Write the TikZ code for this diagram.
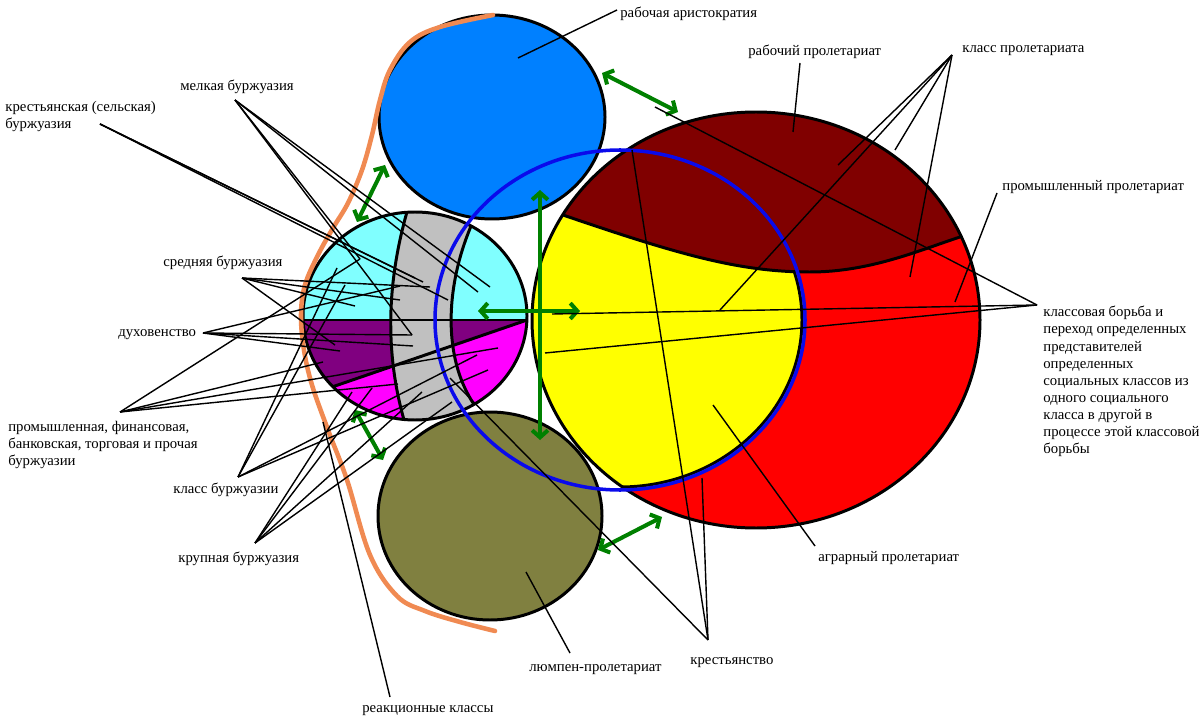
\documentclass[tikz,border=0pt]{standalone}
\usepackage{fontspec}
\setmainfont{Liberation Serif}
\usetikzlibrary{arrows.meta}

\definecolor{topblue}{RGB}{0,128,255}
\definecolor{cyanb}{RGB}{128,255,255}
\definecolor{grayb}{RGB}{192,192,192}
\definecolor{purpleb}{RGB}{128,0,128}
\definecolor{magentab}{RGB}{255,0,255}
\definecolor{olivep}{RGB}{128,128,64}
\definecolor{redp}{RGB}{255,0,0}
\definecolor{darkredp}{RGB}{128,0,0}
\definecolor{yellowp}{RGB}{255,255,0}
\definecolor{ringblue}{RGB}{10,10,235}
\definecolor{orangep}{RGB}{240,138,82}
\definecolor{arrowgreen}{RGB}{0,128,0}

\tikzset{
  outline/.style={draw=black, line width=1.7pt},
  leader/.style={draw=black, line width=0.8pt},
  transfer/.style={draw=arrowgreen, line width=2.3pt,
    {Straight Barb[length=4pt,width=9pt]}-{Straight Barb[length=4pt,width=9pt]}},
  lbl/.style={anchor=base west, inner sep=0pt, align=left,
    font=\fontsize{8.4}{9.7}\selectfont},
}

\begin{document}
\begin{tikzpicture}[x=0.02cm, y=-0.02cm]
  \useasboundingbox (0,0) rectangle (1203,719);

  % worker aristocracy
  \draw[outline, fill=topblue] (492,117) ellipse [x radius=113, y radius=102];

  % bourgeoisie
  \begin{scope}
    \clip (415,316) ellipse [x radius=112, y radius=104];
    \fill[cyanb] (300,200) rectangle (530,430);
    \fill[purpleb] (300,320) rectangle (530,430);
    \fill[magentab] (300,398) -- (530,319) -- (530,430) -- (300,430) -- cycle;
    \fill[grayb] (409,205) .. controls (385,285) and (385,360) .. (407,430)
      -- (478,410) .. controls (440,360) and (445,280) .. (476,215) -- cycle;
    \draw[outline] (300,320) -- (530,320);
    \draw[outline] (300,398) -- (530,319);
    \draw[outline] (409,205) .. controls (385,285) and (385,360) .. (407,430);
    \draw[outline] (476,215) .. controls (445,280) and (440,360) .. (478,410);
  \end{scope}
  \draw[outline] (415,316) ellipse [x radius=112, y radius=104];

  % lumpen
  \draw[outline, fill=olivep] (490,516) ellipse [x radius=112, y radius=104];

  % proletariat
  \begin{scope}
    \clip (756,320) ellipse [x radius=224, y radius=208];
    \fill[redp] (530,100) rectangle (990,540);
    \fill[yellowp] (620,320) ellipse [x radius=185, y radius=170];
    \draw[black, line width=1.7pt] (620,320) ellipse [x radius=182, y radius=167];
    \fill[darkredp] (540,209) -- (563,215) .. controls (680,255) and (740,272) .. (810,272)
      .. controls (870,272) and (920,250) .. (960,237) -- (985,230)
      -- (985,90) -- (540,90) -- cycle;
    \draw[outline] (540,209) -- (563,215) .. controls (680,255) and (740,272) .. (810,272)
      .. controls (870,272) and (920,250) .. (960,237) -- (985,230);
  \end{scope}
  \draw[outline] (756,320) ellipse [x radius=224, y radius=208];

  % peasantry ring
  \draw[ringblue, line width=2pt] (620,320) ellipse [x radius=185, y radius=170];

  % reactionary classes
  \draw[orangep, line width=2.6pt, line cap=round] plot[smooth, tension=0.6] coordinates {
    (493,15) (440,27) (410,42) (390,70) (380,100) (372,135) (362,170) (348,203)
    (333,228) (318,255) (305,285) (301,315) (304,350) (312,385) (328,430)
    (347,480) (370,555) (397,596) (425,611) (460,622) (495,631)};

  % transitions
  \draw[transfer] (602,73) -- (678,112);
  \draw[transfer] (385,165) -- (357,222);
  \draw[transfer] (355,410) -- (383,460);
  \draw[transfer] (598,550) -- (662,517);
  \draw[transfer] (540,190) -- (540,440);
  \draw[transfer] (478,311) -- (580,311);

  % labels
  \node[lbl] (aris) at (620,18) {рабочая аристократия};
  \node[lbl] (rabpro) at (748,56) {рабочий пролетариат};
  \node[lbl] (klpro) at (962,53) {класс пролетариата};
  \node[lbl] (prompro) at (1002,191) {промышленный пролетариат};
  \node[lbl, anchor=north west] (borba) at (1043,306) {классовая борьба и\\переход определенных\\представителей\\определенных\\социальных классов из\\одного социального\\класса в другой в\\процессе этой классовой\\борьбы};
  \node[lbl] (agrar) at (818,561) {аграрный пролетариат};
  \node[lbl] (krest) at (690,664) {крестьянство};
  \node[lbl] (lump) at (529,671) {люмпен-пролетариат};
  \node[lbl] (reak) at (362,712) {реакционные классы};
  \node[lbl] (krup) at (178,562) {крупная буржуазия};
  \node[lbl] (klbur) at (173,493) {класс буржуазии};
  \node[lbl, anchor=north west] (prom) at (8,421) {промышленная, финансовая,\\банковская, торговая и прочая\\буржуазии};
  \node[lbl] (duh) at (118,337) {духовенство};
  \node[lbl] (sred) at (163,267) {средняя буржуазия};
  \node[lbl, anchor=north west] (krestb) at (5,101) {крестьянская (сельская)\\буржуазия};
  \node[lbl] (melk) at (180,91) {мелкая буржуазия};

  % fan points
  \coordinate (arisF) at (617,10);
  \coordinate (rabproF) at (800,63);
  \coordinate (klproF) at (952,55);
  \coordinate (promproF) at (997,193);
  \coordinate (borbaF) at (1037,305);
  \coordinate (agrarF) at (815,546);
  \coordinate (krestF) at (708,640);
  \coordinate (lumpF) at (570,653);
  \coordinate (reakF) at (390,697);
  \coordinate (melkF) at (235,100);
  \coordinate (krestbF) at (100,124);
  \coordinate (sredF) at (242,278);
  \coordinate (duhF) at (203,333);
  \coordinate (promF) at (120,412);
  \coordinate (klburF) at (238,477);
  \coordinate (krupF) at (255,543);

  % leaders
  \draw[leader] (arisF) -- (518,58);
  \draw[leader] (rabproF) -- (793,132);
  \foreach \p in {(838,165),(720,310),(895,150),(910,277)}
    \draw[leader] (klproF) -- \p;
  \draw[leader] (promproF) -- (955,302);
  \foreach \p in {(655,107),(552,314),(545,353)}
    \draw[leader] (borbaF) -- \p;
  \draw[leader] (agrarF) -- (713,405);
  \foreach \p in {(632,150),(702,478),(450,378)}
    \draw[leader] (krestF) -- \p;
  \draw[leader] (lumpF) -- (526,572);
  \draw[leader] (reakF) -- (323,422);
  \foreach \p in {(490,287),(478,292),(360,259),(412,335)}
    \draw[leader] (melkF) -- \p;
  \foreach \p in {(415,278),(423,282),(448,300)}
    \draw[leader] (krestbF) -- \p;
  \foreach \p in {(430,287),(400,300),(355,306),(335,345)}
    \draw[leader] (sredF) -- \p;
  \foreach \p in {(400,286),(412,335),(413,346),(340,351)}
    \draw[leader] (duhF) -- \p;
  \foreach \p in {(360,259),(323,362),(398,384),(498,348)}
    \draw[leader] (promF) -- \p;
  \foreach \p in {(345,285),(337,268),(477,355),(488,370)}
    \draw[leader] (klburF) -- \p;
  \foreach \p in {(352,392),(372,388),(422,392),(452,402)}
    \draw[leader] (krupF) -- \p;
\end{tikzpicture}
\end{document}
